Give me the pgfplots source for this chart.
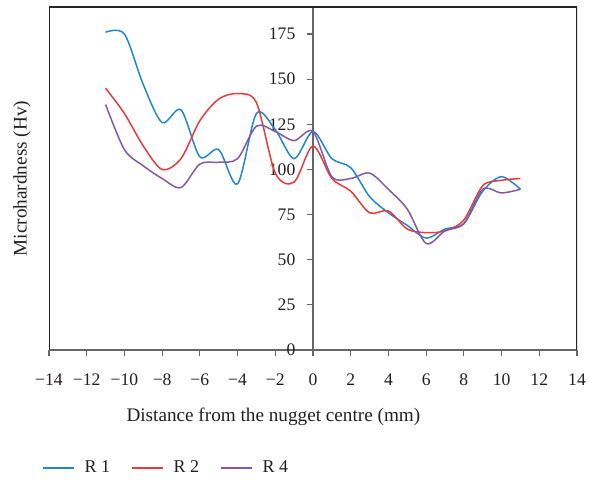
\documentclass[border=0pt]{standalone}
\usepackage{fontspec}
\setmainfont{Liberation Serif}
\usepackage{pgfplots}
\pgfplotsset{compat=1.18}
\definecolor{cR1}{RGB}{35,135,205}
\definecolor{cR2}{RGB}{232,60,60}
\definecolor{cR4}{RGB}{130,88,170}
\definecolor{txt}{RGB}{35,31,32}
\begin{document}
\begin{tikzpicture}
\begin{axis}[
  scale only axis,
  width=264pt, height=171.5pt,
  xmin=-14, xmax=14, ymin=0, ymax=190,
  axis x line=bottom,
  axis y line=middle,
  axis line style={-, draw=gray!80!black, line width=0.6pt},
  hide obscured y ticks=false,
  hide obscured x ticks=false,
  xtick={-14,-12,...,14},
  xticklabels={−14,−12,−10,−8,−6,−4,−2,0,2,4,6,8,10,12,14},
  ytick={0,25,...,175},
  tick align=outside,
  major tick length=2.8pt,
  tick style={draw=gray!80!black, line width=0.6pt},
  /pgf/number format/assume math mode=true,
  tick label style={font=\fontsize{8.8pt}{10pt}\selectfont, text=txt},
  xticklabel style={yshift=-5.5pt},
  yticklabel style={xshift=-2.5pt},
  every axis x label/.style={at={(rel axis cs:0.425,0)}, yshift=-33.3pt, anchor=center},
  every axis y label/.style={at={(rel axis cs:0,0.5)}, xshift=-13.5pt, rotate=90, anchor=center},
  xlabel={Distance from the nugget centre (mm)},
  ylabel={Microhardness (Hv)},
  label style={font=\fontsize{9.6pt}{11pt}\selectfont, text=txt},
  legend style={at={(rel axis cs:-0.025,-0.344)}, anchor=west, draw=none, fill=none,
    font=\fontsize{9pt}{11pt}\selectfont, text=txt,
    /tikz/every odd column/.append style={column sep=3pt},
    /tikz/every even column/.append style={column sep=8.5pt}},
  legend columns=3,
  legend image code/.code={\draw[#1] (0pt,0pt) -- (15.5pt,0pt);},
  every axis plot/.append style={line width=0.75pt, smooth, no markers},
]
\addplot[cR1] coordinates {(-11,176) (-10,175) (-9,147) (-8,126) (-7,133) (-6,107) (-5,111) (-4,92) (-3,131) (-2,122) (-1,106) (0,121) (1,106) (2,101) (3,85) (4,76) (5,69) (6,62) (7,67) (8,70) (9,88) (10,96) (11,89)};
\addlegendentry{R 1}
\addplot[cR2] coordinates {(-11,145) (-10,131) (-9,113) (-8,100) (-7,106) (-6,127) (-5,139) (-4,142) (-3,137) (-2,98) (-1,93) (0,113) (1,95) (2,88) (3,76) (4,77) (5,67) (6,65) (7,66) (8,72) (9,91) (10,94) (11,95)};
\addlegendentry{R 2}
\addplot[cR4] coordinates {(-11,136) (-10,111) (-9,102) (-8,95) (-7,90) (-6,103) (-5,104) (-4,106) (-3,124) (-2,121) (-1,116) (0,121) (1,96) (2,95) (3,98) (4,89) (5,78) (6,59) (7,66) (8,70) (9,89) (10,87) (11,89)};
\addlegendentry{R 4}
\draw[black!85, line width=0.7pt] (rel axis cs:0,0) -- (rel axis cs:0,1) -- (rel axis cs:1,1) -- (rel axis cs:1,0);
\end{axis}
\pgfresetboundingbox
\path[use as bounding box] (-24.5pt,-73pt) rectangle (274.5pt,175pt);
\end{tikzpicture}
\end{document}
